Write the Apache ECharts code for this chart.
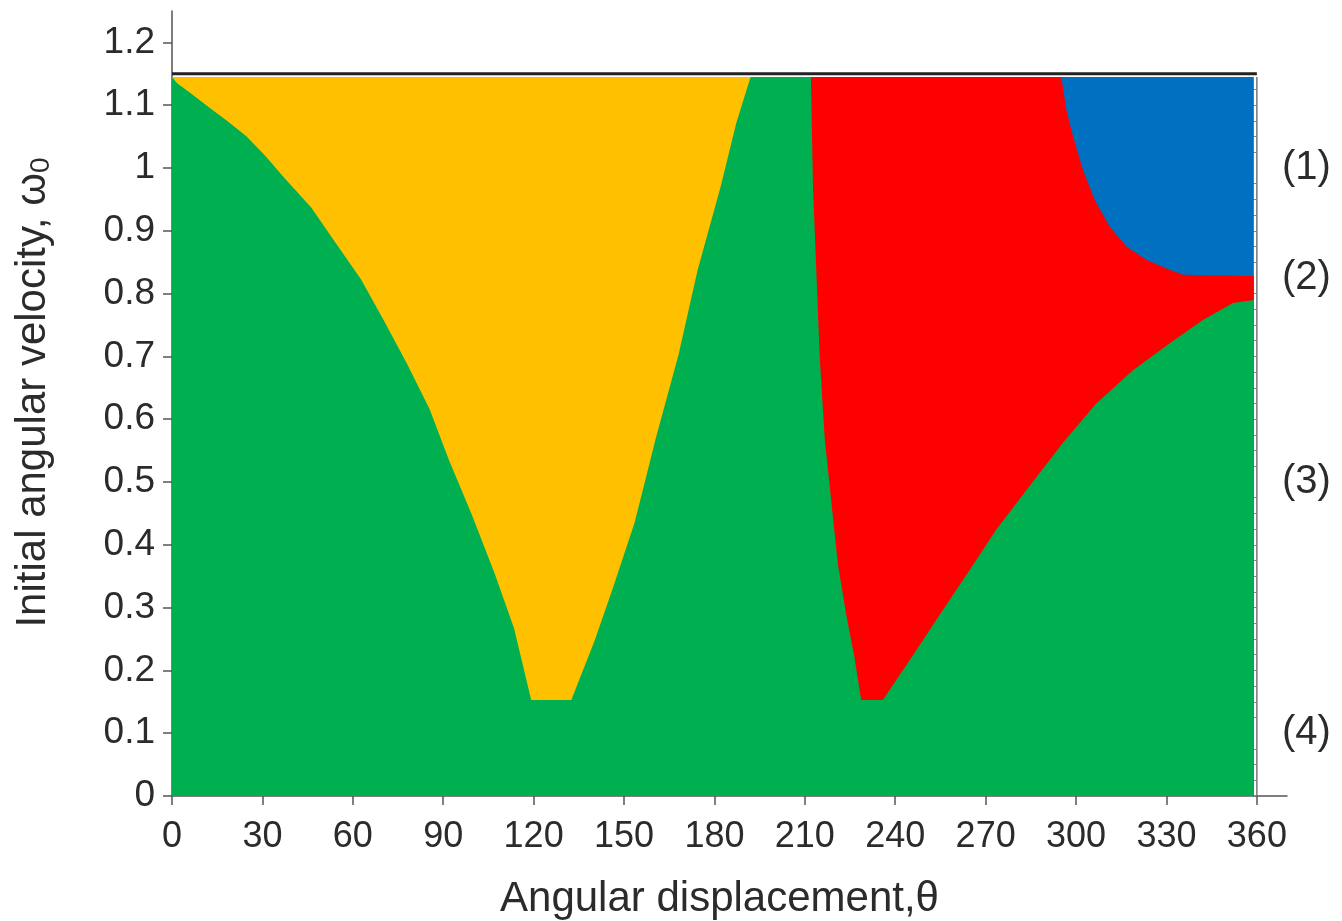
<!DOCTYPE html>
<html>
<head>
<meta charset="utf-8">
<script src="https://cdn.jsdelivr.net/npm/echarts@6/dist/echarts.min.js"></script>
<style>
html,body{margin:0;padding:0;background:#fff;}
#chart{width:1342px;height:921px;}
</style>
</head>
<body>
<div id="chart"></div>
<script>
// ---- tick values / labels ----
const thetaTickValues = [0, 30, 60, 90, 120, 150, 180, 210, 240, 270, 300, 330, 360];
const omegaTickValues = [0, 0.1, 0.2, 0.3, 0.4, 0.5, 0.6, 0.7, 0.8, 0.9, 1.0, 1.1, 1.2];
const omegaTickLabels = ['0', '0.1', '0.2', '0.3', '0.4', '0.5', '0.6', '0.7', '0.8', '0.9', '1', '1.1', '1.2'];
const caseTickValues = [1.0, 0.825, 0.5, 0.1];
const caseTickLabels = ['(1)', '(2)', '(3)', '(4)'];
const rightMinorTicks = [0.025, 0.05, 0.075, 0.125, 0.15, 0.175, 0.2, 0.225, 0.25, 0.275, 0.3, 0.325, 0.35, 0.375, 0.4,
  0.425, 0.45, 0.475, 0.525, 0.55, 0.575, 0.6, 0.625, 0.65, 0.675, 0.7, 0.725, 0.75, 0.775, 0.8,
  0.85, 0.875, 0.9, 0.925, 0.95, 0.975, 1.025, 1.05, 1.075, 1.1, 1.125];

// ---- region boundaries (theta, omega0) ----
const yellowRegion = [[0, 1.145], [200, 1.145]];
const blueRegion = [[295, 1.145], [359, 1.145]];
const redRegion = [[200, 1.145], [295.1, 1.145], [296.8, 1.092], [299, 1.05], [302.3, 0.997], [306.2, 0.949],
  [311.1, 0.907], [316.7, 0.875], [323.3, 0.854], [330, 0.84], [335.5, 0.83], [359, 0.828]];
const greenRegion = [[0, 1.145], [1.7, 1.135], [6, 1.12], [11.9, 1.098], [18, 1.076], [24.6, 1.051], [31, 1.019],
  [37.3, 0.984], [46.2, 0.937], [53.8, 0.884], [62.7, 0.823], [70.3, 0.757], [77.9, 0.689], [85.5, 0.616],
  [91.9, 0.535], [99.5, 0.448], [107.1, 0.354], [113.5, 0.267], [119.2, 0.153], [132.5, 0.153],
  [140.2, 0.247], [146.5, 0.334], [153.5, 0.435], [160.5, 0.569], [168.1, 0.703], [174.4, 0.837],
  [182.1, 0.971], [187.2, 1.071], [191.6, 1.139], [192.0, 1.145], [212.0, 1.145], [212.7, 0.971],
  [213.8, 0.837], [214.9, 0.703], [216.6, 0.569], [218.8, 0.468], [221, 0.368], [223.8, 0.287],
  [226.5, 0.22], [228.7, 0.153], [235.9, 0.153], [247, 0.232], [255.8, 0.296], [264.7, 0.36],
  [273.5, 0.424], [283.5, 0.487], [295.6, 0.562], [306.7, 0.625], [318.9, 0.678], [331.1, 0.721],
  [342.1, 0.758], [352.1, 0.785], [359, 0.79]];
const separatorLine = [[0, 1.15], [360, 1.15]];
const rightBorder = [[360, 0], [360, 1.145]];

const FONT = "'Liberation Sans', Arial, Helvetica, sans-serif";
const TXT = '#2b2b2b';
const AX = '#555555';

function lookup(values, labels, v) {
  for (let i = 0; i < values.length; i++) {
    if (Math.abs(values[i] - v) < 1e-6) return labels[i];
  }
  return '';
}

function area(name, data, color) {
  return {
    name: name, type: 'line', data: data, showSymbol: false, silent: true,
    lineStyle: {width: 0}, areaStyle: {color: color, opacity: 1}, animation: false
  };
}

const chart = echarts.init(document.getElementById('chart'), null, {renderer: 'canvas'});
chart.setOption({
  backgroundColor: '#ffffff',
  animation: false,
  textStyle: {fontFamily: FONT},
  grid: {left: 172, right: 55, top: 11, bottom: 125, containLabel: false, outerBoundsMode: 'none'},
  xAxis: {
    type: 'value', min: 0, max: 370,
    axisLine: {show: true, onZero: false, lineStyle: {color: AX, width: 1.5}},
    axisTick: {show: true, customValues: thetaTickValues, length: 9, lineStyle: {color: AX, width: 1.5}},
    axisLabel: {customValues: thetaTickValues, fontSize: 36, color: TXT, margin: 23, fontFamily: FONT},
    splitLine: {show: false},
    name: 'Angular displacement,θ', nameLocation: 'middle', nameGap: 82,
    nameTextStyle: {fontSize: 42, color: TXT, fontFamily: FONT, padding: [0, 20, 0, 0]}
  },
  yAxis: [
    {
      type: 'value', min: 0, max: 1.25, position: 'left',
      axisLine: {show: true, onZero: false, lineStyle: {color: AX, width: 1.5}},
      axisTick: {show: true, customValues: omegaTickValues, length: 9, lineStyle: {color: AX, width: 1.5}},
      axisLabel: {
        customValues: omegaTickValues, fontSize: 37, color: TXT, margin: 17, fontFamily: FONT,
        formatter: v => lookup(omegaTickValues, omegaTickLabels, v)
      },
      splitLine: {show: false},
      name: 'Initial angular velocity, ω{sub|0}', nameLocation: 'middle', nameGap: 117,
      nameTextStyle: {
        fontSize: 42, color: TXT, fontFamily: FONT, padding: [0, 0, 0, 22],
        rich: {sub: {fontSize: 28, color: TXT, fontFamily: FONT, padding: [16, 0, 0, 0]}}
      }
    },
    {
      type: 'value', min: 0, max: 1.25, position: 'right', offset: -30,
      axisLine: {show: false},
      axisTick: {show: true, customValues: caseTickValues, length: 11, lineStyle: {color: AX, width: 1.5}},
      axisLabel: {
        customValues: caseTickValues, fontSize: 40, color: TXT, margin: 25, fontFamily: FONT,
        formatter: v => lookup(caseTickValues, caseTickLabels, v)
      },
      splitLine: {show: false}
    },
    {
      type: 'value', min: 0, max: 1.25, position: 'right', offset: -30,
      axisLine: {show: false},
      axisTick: {show: true, inside: true, customValues: rightMinorTicks, length: 4, lineStyle: {color: '#888', width: 1}},
      axisLabel: {show: false},
      splitLine: {show: false}
    }
  ],
  series: [
    area('blue', blueRegion, '#0070C0'),
    area('yellow', yellowRegion, '#FFC000'),
    area('red', redRegion, '#FF0000'),
    area('green', greenRegion, '#00B050'),
    {
      name: 'limit', type: 'line', data: separatorLine, showSymbol: false, silent: true,
      lineStyle: {color: '#222222', width: 3}, animation: false
    },
    {
      name: 'border', type: 'line', data: rightBorder, showSymbol: false, silent: true,
      lineStyle: {color: '#777777', width: 1.5}, animation: false
    }
  ]
});
</script>
</body>
</html>
